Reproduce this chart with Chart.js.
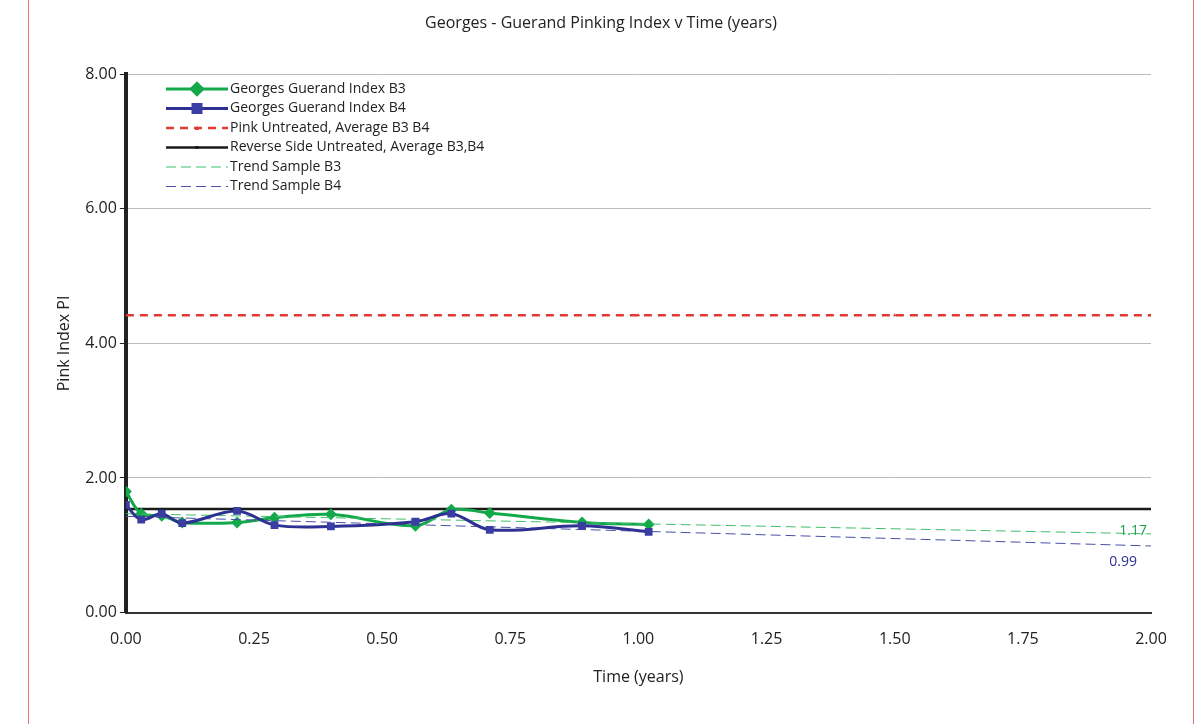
<!DOCTYPE html>
<html>
<head>
<meta charset="utf-8">
<script src="https://cdn.jsdelivr.net/npm/chart.js@4/dist/chart.umd.min.js"></script>
<style>
  body { margin: 0; background: #fff; font-family: "Open Sans", sans-serif; }
  #frame { position: absolute; left: 28px; top: -2px; width: 1164px; height: 740px; border: 1px solid #e8707a; }
  #wrap { position: absolute; left: 0; top: 0; width: 1202px; height: 724px; }
</style>
</head>
<body>
<div id="frame"></div>
<div id="wrap"><canvas id="c"></canvas></div>
<script>
const timeB = [0, 0.03, 0.07, 0.11, 0.217, 0.29, 0.40, 0.565, 0.635, 0.71, 0.89, 1.02];
const indexB3 = [1.80, 1.47, 1.44, 1.34, 1.34, 1.41, 1.46, 1.29, 1.53, 1.48, 1.34, 1.31];
const indexB4 = [1.60, 1.38, 1.47, 1.33, 1.51, 1.30, 1.28, 1.35, 1.47, 1.23, 1.29, 1.20];
const untreatedTime = [0, 0.5, 1, 1.5, 2];
const pinkUntreated = [4.42, 4.42, 4.42, 4.42, 4.42];
const reverseUntreated = [1.54, 1.54, 1.54, 1.54, 1.54];
const trendTime = [0, 2];
const trendB3 = [1.47, 1.17];
const trendB4 = [1.43, 0.99];
const yTicks = ["0.00", "2.00", "4.00", "6.00", "8.00"];

const pts = (xs, ys) => xs.map((x, i) => ({ x: x, y: ys[i] }));

const overlay = {
  id: "overlay",
  afterDraw(chart) {
    const ctx = chart.ctx, xs = chart.scales.x, ys = chart.scales.y;
    ctx.save();
    ctx.font = "14px 'Open Sans'";
    ctx.textAlign = "right";
    ctx.fillStyle = "#1aa04a";
    ctx.fillText(trendB3[1].toFixed(2), xs.getPixelForValue(2) - 4, ys.getPixelForValue(trendB3[1]) + 1);
    ctx.fillStyle = "#2b2f92";
    ctx.fillText(trendB4[1].toFixed(2), xs.getPixelForValue(2) - 14, ys.getPixelForValue(trendB4[1]) + 20);
    // legend inside plot
    ctx.textAlign = "left";
    ctx.textBaseline = "middle";
    chart.data.datasets.forEach((d, i) => {
      const y = 89 + i * 19.5, x0 = 166, x1 = 228;
      ctx.strokeStyle = d.borderColor;
      ctx.lineWidth = d.borderWidth;
      ctx.setLineDash(d.borderDash || []);
      ctx.beginPath(); ctx.moveTo(x0, y); ctx.lineTo(x1, y); ctx.stroke();
      ctx.setLineDash([]);
      if (d.pointRadius > 0) {
        ctx.fillStyle = d.pointBackgroundColor;
        const r = d.pointRadius, cx = (x0 + x1) / 2;
        ctx.beginPath();
        if (d.pointStyle === "rectRot") { ctx.moveTo(cx, y - r * 1.3); ctx.lineTo(cx + r * 1.3, y); ctx.lineTo(cx, y + r * 1.3); ctx.lineTo(cx - r * 1.3, y); }
        else if (d.pointStyle === "triangle") { ctx.moveTo(cx, y - r); ctx.lineTo(cx + r, y + r); ctx.lineTo(cx - r, y + r); }
        else { ctx.rect(cx - r, y - r, 2 * r, 2 * r); }
        ctx.fill();
      }
      ctx.fillStyle = "#222";
      ctx.fillText(d.label, x1 + 2, y);
    });
    ctx.restore();
  }
};

new Chart(document.getElementById("c"), {
  type: "line",
  data: {
    datasets: [
      { label: "Georges Guerand Index B3", data: pts(timeB, indexB3), borderColor: "#13a94b", backgroundColor: "#13a94b",
        pointBackgroundColor: "#13a94b", borderWidth: 3, pointStyle: "rectRot", pointRadius: 6, pointBorderWidth: 0, tension: 0.35, order: 1 },
      { label: "Georges Guerand Index B4", data: pts(timeB, indexB4), borderColor: "#2e3192", backgroundColor: "#2e3192",
        pointBackgroundColor: "#3a3ea3", borderWidth: 3, pointStyle: "rect", pointRadius: 5.5, pointBorderWidth: 0, tension: 0.35, order: 0 },
      { label: "Pink Untreated, Average B3 B4", data: pts(untreatedTime, pinkUntreated), borderColor: "#e03a32",
        pointBackgroundColor: "#e03a32", borderWidth: 2.5, borderDash: [8, 6], pointStyle: "triangle", pointRadius: 2, pointBorderWidth: 0 },
      { label: "Reverse Side Untreated, Average B3,B4", data: pts(untreatedTime, reverseUntreated), borderColor: "#1a1a1a",
        pointBackgroundColor: "#1a1a1a", borderWidth: 2.5, pointStyle: "rect", pointRadius: 1.5, pointBorderWidth: 0, order: 2 },
      { label: "Trend Sample B3", data: pts(trendTime, trendB3), borderColor: "#3fbf6a", borderWidth: 1,
        borderDash: [10, 5], pointRadius: 0 },
      { label: "Trend Sample B4", data: pts(trendTime, trendB4), borderColor: "#4a4fa8", borderWidth: 1,
        borderDash: [10, 5], pointRadius: 0 }
    ]
  },
  options: {
    responsive: true, maintainAspectRatio: false, animation: false,
    layout: { padding: { left: 51, right: 51, top: 12, bottom: 33 } },
    plugins: {
      legend: { display: false }, tooltip: { enabled: false },
      title: { display: true, text: "Georges - Guerand Pinking Index v Time (years)", color: "#222",
        font: { family: "Open Sans", size: 16, weight: "normal" }, padding: { top: 2, bottom: 41 } }
    },
    scales: {
      x: { type: "linear", min: 0, max: 2,
        ticks: { stepSize: 0.25, padding: 11, color: "#222", font: { family: "Open Sans", size: 16 }, callback: v => v.toFixed(2) },
        grid: { display: false, drawTicks: true, tickColor: "#222", tickLength: 6 },
        border: { color: "#333", width: 2 },
        title: { display: true, text: "Time (years)", color: "#222", font: { family: "Open Sans", size: 16 }, padding: { top: 8 } } },
      y: { min: 0, max: 8,
        afterBuildTicks: s => { s.ticks = yTicks.map(t => ({ value: parseFloat(t) })); },
        ticks: { color: "#222", font: { family: "Open Sans", size: 16 }, callback: v => v.toFixed(2) },
        grid: { color: "#bbb", tickColor: "#222", tickLength: 6, lineWidth: 1 },
        border: { color: "#222", width: 4 },
        title: { display: true, text: "Pink Index PI", color: "#222", font: { family: "Open Sans", size: 16 }, padding: { bottom: 8 } } }
    }
  },
  plugins: [overlay]
});
</script>
</body>
</html>
